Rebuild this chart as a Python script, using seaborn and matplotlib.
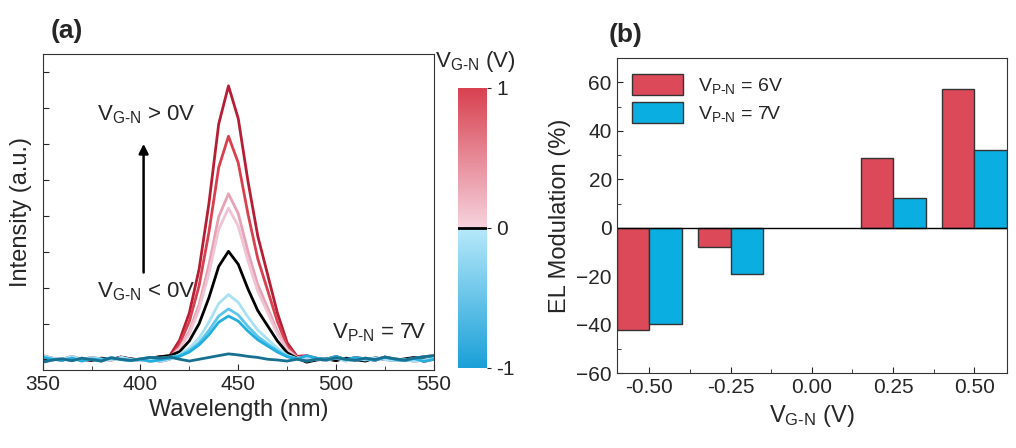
import numpy as np
import pandas as pd
import matplotlib
matplotlib.use("Agg")
import matplotlib.pyplot as plt
from matplotlib.colors import LinearSegmentedColormap
from matplotlib.ticker import MultipleLocator, FixedLocator
import seaborn as sns

sns.set_style("white")
plt.rcParams['font.family'] = ['Liberation Sans', 'DejaVu Sans']
plt.rcParams['mathtext.fontset'] = 'custom'
plt.rcParams['mathtext.rm'] = 'Liberation Sans'
plt.rcParams['mathtext.it'] = 'Liberation Sans'

# ---------- panel (a) data ----------
wavelength = [350, 355, 360, 365, 370, 375, 380, 385, 390, 395, 400, 405, 410, 415,
              420, 425, 430, 435, 440, 445, 450, 455, 460, 465, 470, 475, 480,
              485, 490, 495, 500, 505, 510, 515, 520, 525, 530, 535, 540, 545, 550]
noise_a = [0.25, 0.30, 0.28, 0.34, 0.30, 0.27, 0.33, 0.29, 0.36, 0.31, 0.28, 0.33, 0.37, 0.40]
noise_b = [0.40, 0.33, 0.30, 0.38, 0.29, 0.35, 0.31, 0.27, 0.36, 0.30, 0.26, 0.32, 0.24, 0.30]
noise_c = [0.22, 0.28, 0.31, 0.26, 0.33, 0.29, 0.25, 0.34, 0.30, 0.27, 0.31, 0.35, 0.33, 0.36]
noise_d = [0.36, 0.30, 0.27, 0.33, 0.25, 0.31, 0.28, 0.34, 0.29, 0.26, 0.30, 0.24, 0.28, 0.33]
peak_r1 = [0.83, 1.59, 2.81, 4.63, 6.84, 7.90, 6.99, 5.24, 3.72, 2.66, 1.59, 0.76, 0.38]
peak_r2 = [0.73, 1.35, 2.35, 3.83, 5.63, 6.50, 5.76, 4.33, 3.09, 2.22, 1.35, 0.67, 0.36]
peak_p1 = [0.62, 1.08, 1.82, 2.92, 4.26, 4.90, 4.35, 3.29, 2.37, 1.73, 1.08, 0.58, 0.35]
peak_p2 = [0.59, 1.01, 1.69, 2.69, 3.91, 4.50, 4.00, 3.03, 2.19, 1.60, 1.01, 0.55, 0.34]
peak_k = [0.51, 0.81, 1.29, 2.01, 2.88, 3.30, 2.94, 2.25, 1.65, 1.23, 0.81, 0.48, 0.33]
peak_lb = [0.43, 0.61, 0.89, 1.33, 1.85, 2.10, 1.88, 1.47, 1.11, 0.86, 0.61, 0.41, 0.32]
peak_c1 = [0.40, 0.54, 0.76, 1.10, 1.50, 1.70, 1.53, 1.21, 0.93, 0.73, 0.54, 0.38, 0.31]
peak_c2 = [0.38, 0.50, 0.70, 0.98, 1.33, 1.50, 1.36, 1.08, 0.84, 0.67, 0.50, 0.37, 0.31]
peak_t = [0.30, 0.25, 0.30, 0.35, 0.40, 0.45, 0.42, 0.38, 0.35, 0.30, 0.28, 0.25, 0.30]

curves = [
    ("r1", noise_a + peak_r1 + noise_b, "#b51f35"),
    ("r2", noise_b + peak_r2 + noise_a, "#d8404f"),
    ("p1", noise_c + peak_p1 + noise_d, "#e7a2b6"),
    ("p2", noise_d + peak_p2 + noise_c, "#f0c4d2"),
    ("k", noise_a + peak_k + noise_c, "#000000"),
    ("lb", noise_b + peak_lb + noise_d, "#a9e1f4"),
    ("c1", noise_c + peak_c1 + noise_a, "#5cc6ea"),
    ("c2", noise_d + peak_c2 + noise_b, "#22afe0"),
    ("t", noise_c + peak_t + noise_a, "#17708f"),
]

# ---------- panel (b) data ----------
vgn_labels = ["-0.50", "-0.25", "0.00", "0.25", "0.50"]
mod_6v = [-42, -8, np.nan, 29, 57.5]
mod_7v = [-39.5, -19, np.nan, 12.5, 32]

fig = plt.figure(figsize=(10.16, 4.48), dpi=100)
ax1 = fig.add_axes([0.042, 0.174, 0.385, 0.705])
cax = fig.add_axes([0.451, 0.179, 0.0285, 0.625])
ax2 = fig.add_axes([0.607, 0.167, 0.384, 0.703])

for name, vals, col in curves:
    df = pd.DataFrame({"w": wavelength, "I": vals})
    sns.lineplot(data=df, x="w", y="I", ax=ax1, color=col, lw=2)
ax1.set_xlim(350, 550)
ax1.set_ylim(0, 8.78)
ax1.xaxis.set_major_locator(MultipleLocator(50))
ax1.xaxis.set_minor_locator(MultipleLocator(25))
ax1.yaxis.set_major_locator(FixedLocator([1.28 + k for k in range(8)]))
ax1.set_yticklabels([])
ax1.tick_params(axis='both', which='both', direction='in', labelsize=15, bottom=True, left=True)
ax1.tick_params(which='major', length=4)
ax1.tick_params(which='minor', length=3)
ax1.set_xlabel("Wavelength (nm)", fontsize=17)
ax1.set_ylabel("Intensity (a.u.)", fontsize=17)
for s in ax1.spines.values():
    s.set_color("#333333")
ax1.text(0.14, 0.79, r"V$_{\mathrm{G\text{-}N}}$ > 0V", transform=ax1.transAxes, fontsize=16)
ax1.text(0.14, 0.23, r"V$_{\mathrm{G\text{-}N}}$ < 0V", transform=ax1.transAxes, fontsize=16)
ax1.text(0.74, 0.10, r"V$_{\mathrm{P\text{-}N}}$ = 7V", transform=ax1.transAxes, fontsize=16)
ax1.annotate("", xy=(0.258, 0.725), xytext=(0.258, 0.30), xycoords='axes fraction',
             arrowprops=dict(arrowstyle="-|>", color="black", lw=1.8, mutation_scale=14))
ax1.text(0.02, 1.05, "(a)", transform=ax1.transAxes, fontsize=19, fontweight='bold')

cmap = LinearSegmentedColormap.from_list("vgn", [(0, "#1aa0d8"), (0.5, "#b8e9fa"), (0.5, "#f6d3de"), (1.0, "#d8404f")])
grad = np.linspace(-1, 1, 256).reshape(-1, 1)
cax.imshow(grad, aspect='auto', cmap=cmap, origin='lower', extent=[0, 1, -1, 1])
cax.axhline(0, color='black', lw=2)
cax.set_xticks([])
cax.yaxis.tick_right()
cax.set_yticks([-1, 0, 1])
cax.set_yticklabels(["-1", "0", "1"])
cax.tick_params(axis='y', direction='out', labelsize=15, length=3)
for s in cax.spines.values():
    s.set_visible(False)
cax.text(0.6, 1.05, r"V$_{\mathrm{G\text{-}N}}$ (V)", transform=cax.transAxes, fontsize=16,
         ha='center', va='bottom')

dfb = pd.DataFrame({
    "x": vgn_labels * 2,
    "val": mod_6v + mod_7v,
    "series": [r"V$_{\mathrm{P\text{-}N}}$ = 6V"] * 5 + [r"V$_{\mathrm{P\text{-}N}}$ = 7V"] * 5,
})
sns.barplot(data=dfb, x="x", y="val", hue="series", ax=ax2, width=0.8,
            palette=["#dc4a5a", "#0aaee0"], edgecolor="#333333", linewidth=1, saturation=1)
ax2.axhline(0, color='black', lw=1)
ax2.set_xlim(-0.4, 4.4)
ax2.set_ylim(-60, 70)
ax2.yaxis.set_major_locator(MultipleLocator(20))
ax2.yaxis.set_minor_locator(MultipleLocator(10))
ax2.xaxis.set_minor_locator(FixedLocator([0.5, 1.5, 2.5, 3.5]))
ax2.tick_params(axis='both', which='both', direction='in', labelsize=15, bottom=True, left=True)
ax2.tick_params(which='major', length=4)
ax2.tick_params(which='minor', length=3)
ax2.set_xlabel(r"V$_{\mathrm{G\text{-}N}}$ (V)", fontsize=17)
ax2.set_ylabel("EL Modulation (%)", fontsize=17)
for s in ax2.spines.values():
    s.set_color("#333333")
ax2.legend(loc='upper left', frameon=False, fontsize=14, handlelength=2.6, handleheight=1.3,
           borderaxespad=0.4, labelspacing=0.3, title=None)
ax2.text(-0.02, 1.05, "(b)", transform=ax2.transAxes, fontsize=19, fontweight='bold')

fig.savefig("out.png", dpi=100)
